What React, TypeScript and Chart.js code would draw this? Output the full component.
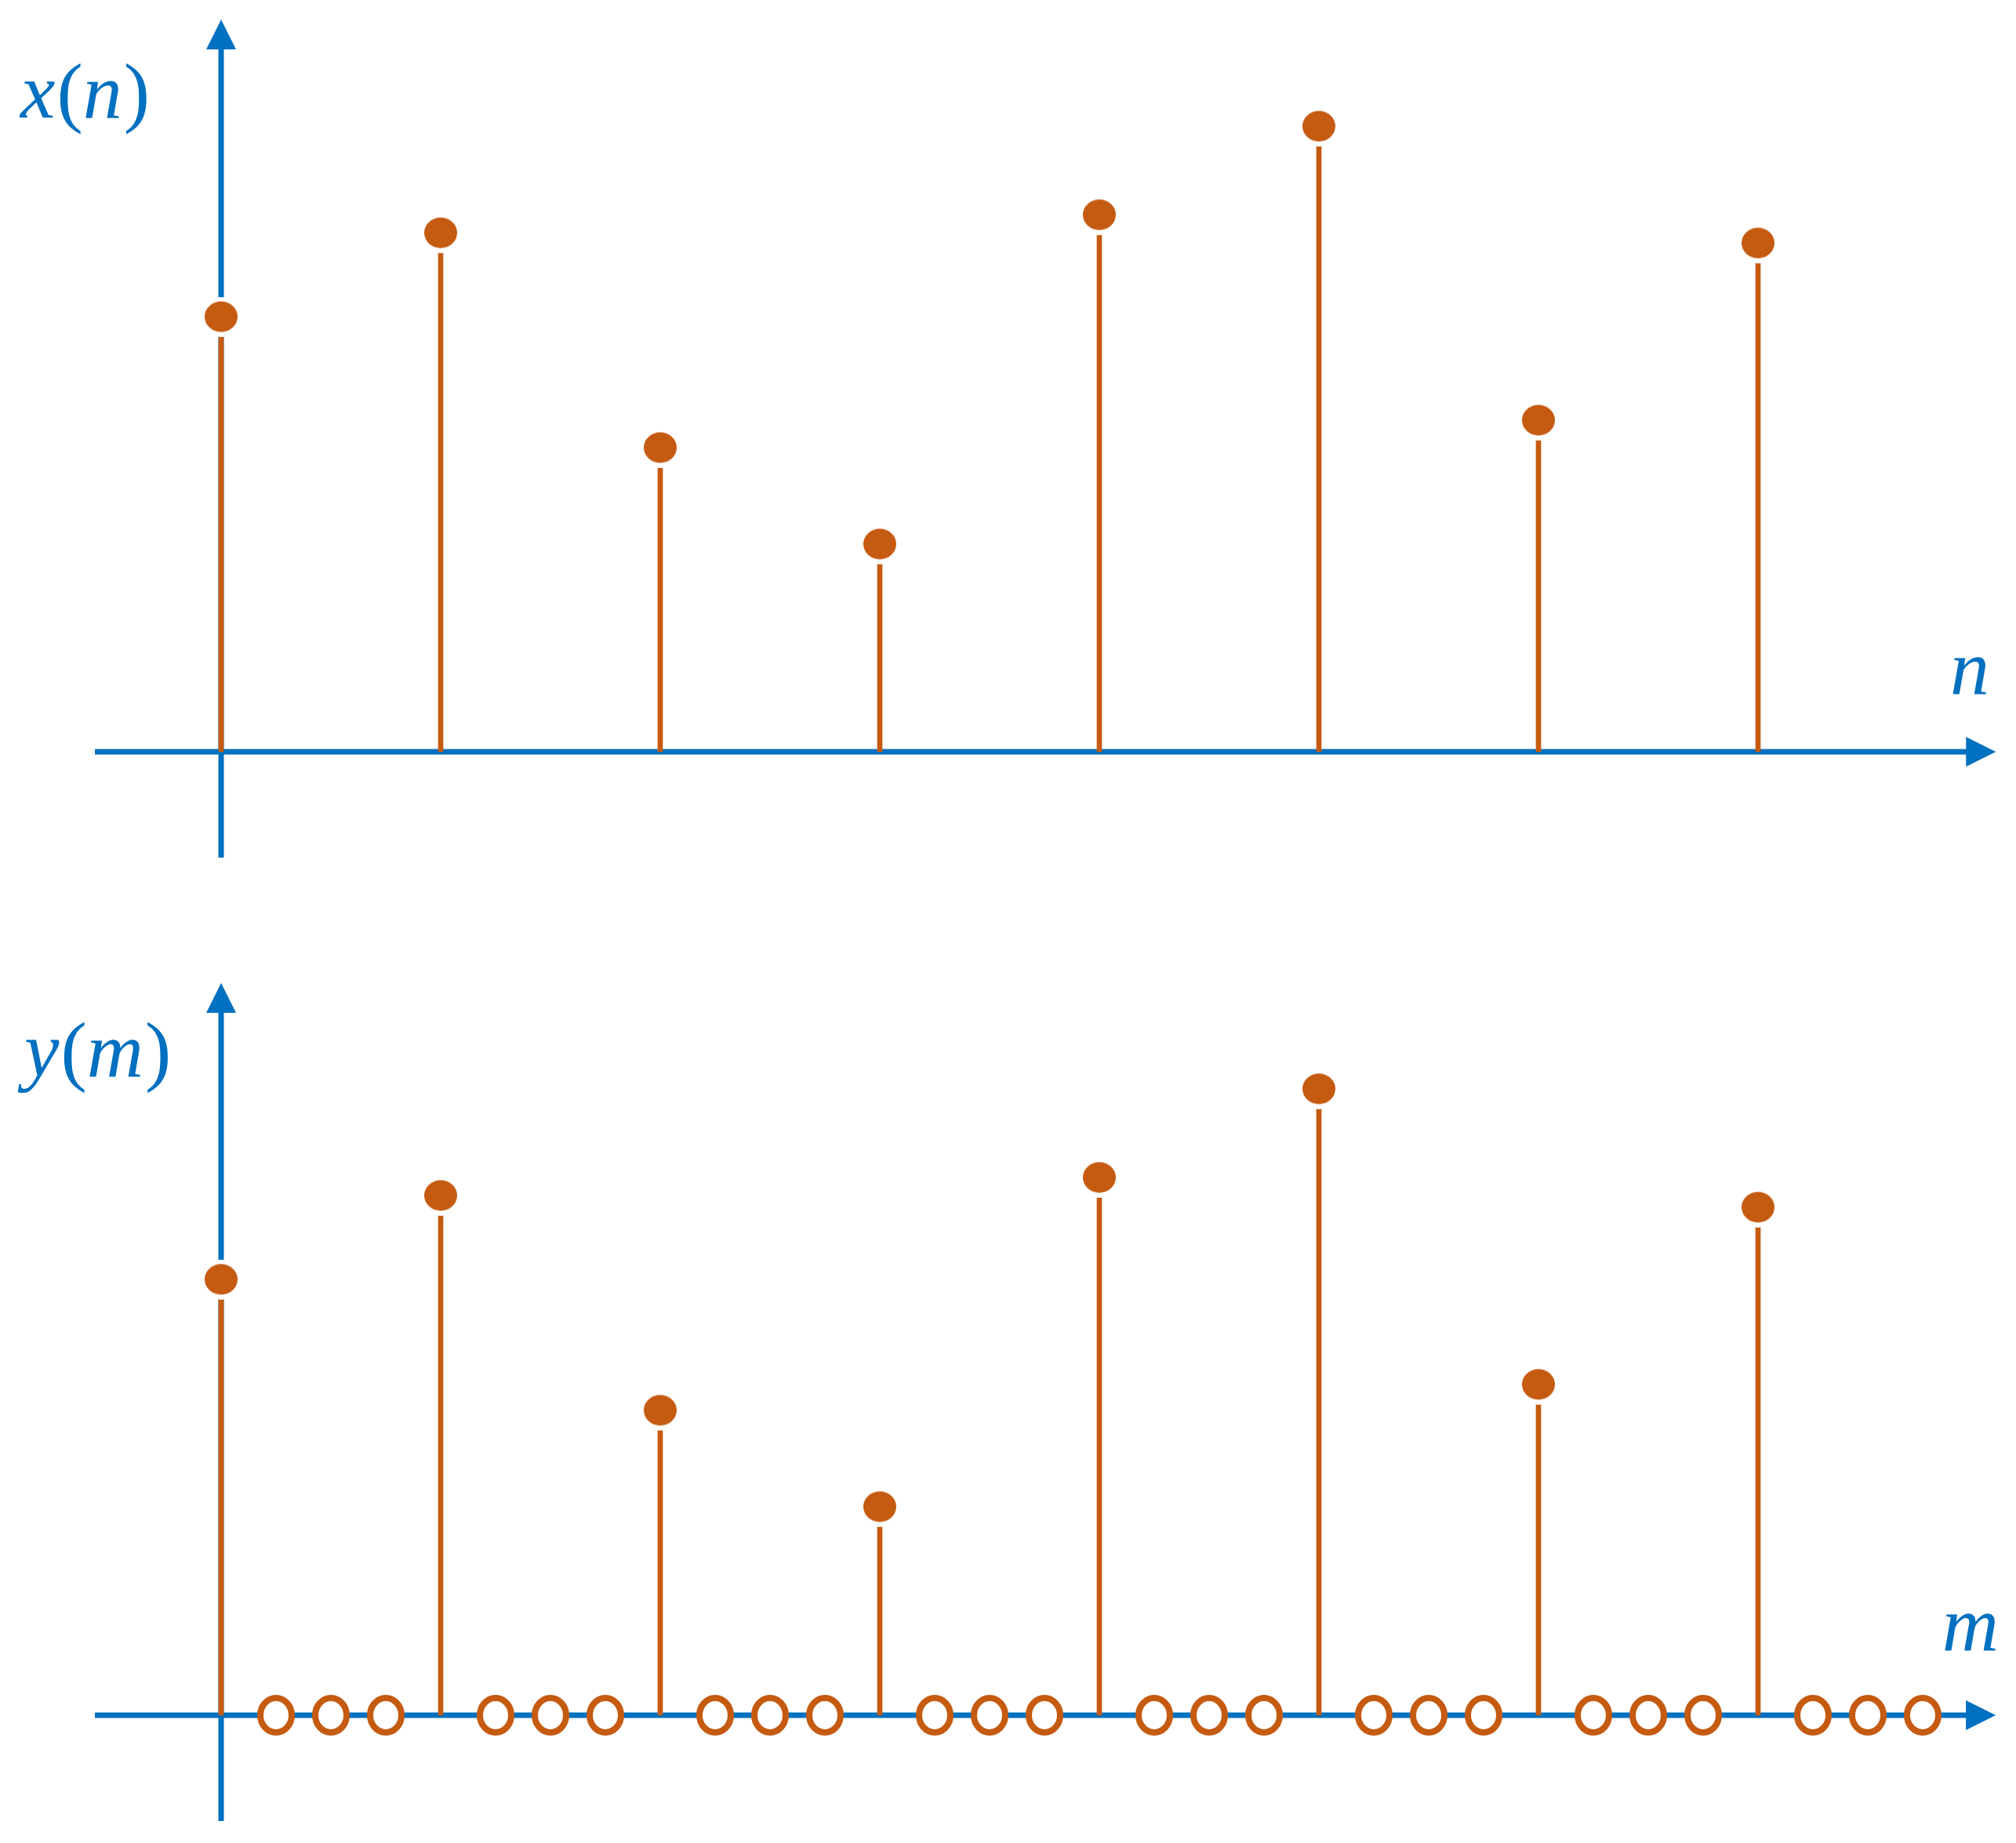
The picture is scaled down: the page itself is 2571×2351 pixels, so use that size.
import React, { useEffect, useRef } from 'react';
import { Chart, registerables } from 'chart.js';

Chart.register(...registerables);

// ---------- data ----------
const nIndex = [0, 1, 2, 3, 4, 5, 6, 7];
const xValues = [5.55, 6.62, 3.88, 2.65, 6.85, 7.98, 4.23, 6.49];

const mIndex = [
  0, 1, 2, 3, 4, 5, 6, 7, 8, 9, 10, 11, 12, 13, 14, 15,
  16, 17, 18, 19, 20, 21, 22, 23, 24, 25, 26, 27, 28, 29, 30, 31,
];
const yValues = [
  5.56, 0, 0, 0, 6.63, 0, 0, 0, 3.89, 0, 0, 0, 2.66, 0, 0, 0,
  6.86, 0, 0, 0, 7.99, 0, 0, 0, 4.22, 0, 0, 0, 6.48, 0, 0, 0,
];

const topLabel = [
  { t: 'x', it: true },
  { t: '(', it: false },
  { t: 'n', it: true },
  { t: ')', it: false },
];
const bottomLabel = [
  { t: 'y', it: true },
  { t: '(', it: false },
  { t: 'm', it: true },
  { t: ')', it: false },
];
const topAxisName = 'n';
const bottomAxisName = 'm';

// ---------- styles ----------
const BLUE = '#0070C0';
const ORANGE = '#C55A11';
const FONT = '"Liberation Serif", "Times New Roman", serif';
const W = 2571;
const H1 = 1175;
const H2 = 1176;

function makeDot(): HTMLCanvasElement {
  const c = document.createElement('canvas');
  c.width = 54;
  c.height = 51;
  const g = c.getContext('2d')!;
  g.fillStyle = '#ffffff';
  g.beginPath();
  g.ellipse(27, 25.5, 27, 25.5, 0, 0, Math.PI * 2);
  g.fill();
  g.fillStyle = ORANGE;
  g.beginPath();
  g.ellipse(27, 25.5, 21, 19.5, 0, 0, Math.PI * 2);
  g.fill();
  return c;
}

function makeRing(): HTMLCanvasElement {
  const c = document.createElement('canvas');
  c.width = 48;
  c.height = 52;
  const g = c.getContext('2d')!;
  g.fillStyle = '#ffffff';
  g.strokeStyle = ORANGE;
  g.lineWidth = 8;
  g.beginPath();
  g.ellipse(24, 26, 20, 22, 0, 0, Math.PI * 2);
  g.fill();
  g.stroke();
  return c;
}

type Seg = { t: string; it: boolean };

function drawMath(ctx: CanvasRenderingContext2D, segs: Seg[], x: number, y: number) {
  let cx = x;
  ctx.textBaseline = 'alphabetic';
  ctx.textAlign = 'left';
  for (const s of segs) {
    ctx.font = `${s.it ? 'italic ' : ''}100px ${FONT}`;
    ctx.fillText(s.t, cx, y);
    cx += ctx.measureText(s.t).width + (s.it ? 2 : 0);
  }
}

function axesPlugin(o: {
  xFrom: number; xTo: number; yFrom: number; yTo: number;
  label: Seg[]; labelX: number; labelY: number;
  name: string; nameRight: number; nameY: number;
}) {
  return {
    id: 'arrowAxes',
    beforeDatasetsDraw(chart: any) {
      const { ctx, scales } = chart;
      const xs = scales.x;
      const ys = scales.y;
      const y0 = ys.getPixelForValue(0);
      const x0 = xs.getPixelForValue(0);
      const A = 38;
      const HW = 19;
      ctx.save();
      ctx.strokeStyle = BLUE;
      ctx.fillStyle = BLUE;
      ctx.lineWidth = 7;
      ctx.lineCap = 'butt';
      // horizontal axis
      const hx1 = xs.getPixelForValue(o.xFrom);
      const hx2 = xs.getPixelForValue(o.xTo);
      ctx.beginPath();
      ctx.moveTo(hx1, y0);
      ctx.lineTo(hx2 - A + 2, y0);
      ctx.stroke();
      ctx.beginPath();
      ctx.moveTo(hx2, y0);
      ctx.lineTo(hx2 - A, y0 - HW);
      ctx.lineTo(hx2 - A, y0 + HW);
      ctx.closePath();
      ctx.fill();
      // vertical axis
      const vy1 = ys.getPixelForValue(o.yFrom);
      const vy2 = ys.getPixelForValue(o.yTo);
      ctx.beginPath();
      ctx.moveTo(x0, vy1);
      ctx.lineTo(x0, vy2 + A - 2);
      ctx.stroke();
      ctx.beginPath();
      ctx.moveTo(x0, vy2);
      ctx.lineTo(x0 - HW, vy2 + A);
      ctx.lineTo(x0 + HW, vy2 + A);
      ctx.closePath();
      ctx.fill();
      // labels
      drawMath(ctx, o.label, o.labelX, o.labelY);
      ctx.font = `italic 100px ${FONT}`;
      ctx.textAlign = 'right';
      ctx.fillText(o.name, o.nameRight, o.nameY);
      ctx.restore();
    },
  };
}

function baseOptions(xmin: number, xmax: number, ymin: number, ymax: number): any {
  return {
    animation: false,
    responsive: false,
    devicePixelRatio: 1,
    layout: { padding: 0, autoPadding: false },
    plugins: { legend: { display: false }, tooltip: { enabled: false } },
    events: [],
    scales: {
      x: { type: 'linear', min: xmin, max: xmax, display: false, offset: false, bounds: 'data' },
      y: { type: 'linear', min: ymin, max: ymax, display: false, bounds: 'data' },
    },
  };
}

export default function App() {
  const topRef = useRef<HTMLCanvasElement>(null);
  const botRef = useRef<HTMLCanvasElement>(null);

  useEffect(() => {
    const dot = makeDot();
    const ring = makeRing();

    // top chart: 280 px per n, 100 px per unit, axis at y=959
    const topPts = nIndex.map((n, i) => ({ x: n, y: xValues[i] }));
    const top = new Chart(topRef.current!, {
      type: 'scatter',
      data: {
        datasets: [
          {
            type: 'bar',
            data: topPts,
            backgroundColor: ORANGE,
            borderWidth: 0,
            barThickness: 6,
            order: 2,
          } as any,
          {
            type: 'scatter',
            data: topPts,
            pointStyle: dot,
            pointRadius: 21,
            order: 1,
          } as any,
        ],
      },
      options: baseOptions(-282 / 280, (W - 282) / 280, (959 - H1) / 100, 9.59),
      plugins: [
        axesPlugin({
          xFrom: -0.575, xTo: 8.083, yFrom: -1.35, yTo: 9.34,
          label: topLabel, labelX: 26, labelY: 150,
          name: topAxisName, nameRight: 2537, nameY: 885,
        }),
      ],
    });

    // bottom chart: 70 px per m
    const allPts = mIndex.map((m, i) => ({ x: m, y: yValues[i] }));
    const nz = allPts.filter((p) => p.y !== 0);
    const zs = allPts.filter((p) => p.y === 0);
    const axisY2 = 2188 - H1;
    const bot = new Chart(botRef.current!, {
      type: 'scatter',
      data: {
        datasets: [
          {
            type: 'bar',
            data: nz,
            backgroundColor: ORANGE,
            borderWidth: 0,
            barThickness: 6,
            order: 3,
          } as any,
          {
            type: 'scatter',
            data: zs,
            pointStyle: ring,
            pointRadius: 22,
            order: 2,
          } as any,
          {
            type: 'scatter',
            data: nz,
            pointStyle: dot,
            pointRadius: 21,
            order: 1,
          } as any,
        ],
      },
      options: baseOptions(-282 / 70, (W - 282) / 70, (axisY2 - H2) / 100, axisY2 / 100),
      plugins: [
        axesPlugin({
          xFrom: -2.3, xTo: 32.33, yFrom: -1.35, yTo: 9.34,
          label: bottomLabel, labelX: 31, labelY: 198,
          name: bottomAxisName, nameRight: 2549, nameY: 930,
        }),
      ],
    });

    return () => {
      top.destroy();
      bot.destroy();
    };
  }, []);

  return (
    <div style={{ position: 'absolute', left: 0, top: 0, width: W, height: H1 + H2, background: '#ffffff' }}>
      <canvas ref={topRef} width={W} height={H1} style={{ display: 'block', width: W, height: H1 }} />
      <canvas ref={botRef} width={W} height={H2} style={{ display: 'block', width: W, height: H2 }} />
    </div>
  );
}
